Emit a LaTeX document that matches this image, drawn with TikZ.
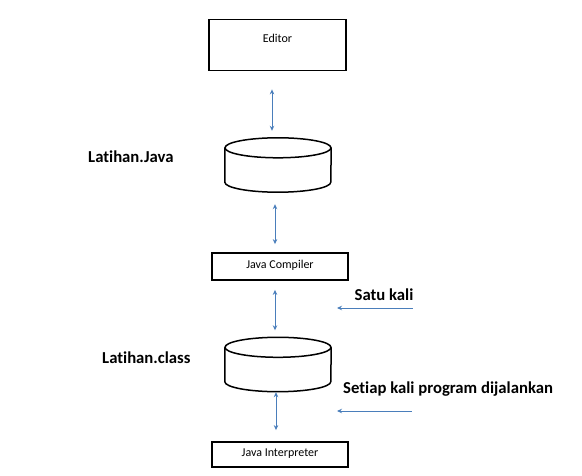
\documentclass[tikz,border=0pt]{standalone}
\usepackage{fontspec}
\setmainfont[Ligatures=NoCommon]{Carlito}
\usetikzlibrary{arrows.meta}
\definecolor{arrowblue}{RGB}{74,126,187}
\begin{document}
\begin{tikzpicture}[x=1pt,y=-1pt,
  box/.style={draw=black,line width=1.8pt,inner sep=0pt},
  boxtext/.style={font=\fontsize{12}{14}\selectfont},
  label/.style={font=\fontsize{16.7}{19}\selectfont\bfseries,inner sep=0pt},
  link/.style={draw=arrowblue,line width=0.9pt,{Stealth[length=5pt,width=4.5pt]}-{Stealth[length=5pt,width=4.5pt]}},
  onelink/.style={draw=arrowblue,line width=0.9pt,{Stealth[length=5pt,width=4.5pt]}-},
  cylline/.style={draw=black,line width=1.5pt},
  cylarea/.style={inner sep=0pt,minimum width=106pt,minimum height=54pt}]
\useasboundingbox (0,0) rectangle (582,476);
% Editor
\node[box,minimum width=137pt,minimum height=51pt] (editor) at (277.5,45) {};
\node[boxtext] (editortext) at (277.5,38) {Editor};
% Cylinder 1
\node[cylarea] (cyl1) at (278,165) {};
\draw[cylline] ([yshift=-10pt]cyl1.north) ellipse[x radius=53,y radius=10];
\draw[cylline] ([yshift=-10pt]cyl1.north west) -- ([yshift=10pt]cyl1.south west)
  arc[start angle=180,end angle=0,x radius=53,y radius=10]
  -- ([yshift=-10pt]cyl1.north east);
% Java Compiler
\node[box,minimum width=136pt,minimum height=27pt] (compiler) at (280,266.5) {};
\node[boxtext] (compilertext) at (280,265.5) {Java Compiler};
% Cylinder 2
\node[cylarea] (cyl2) at (278,364.5) {};
\draw[cylline] ([yshift=-10pt]cyl2.north) ellipse[x radius=53,y radius=10];
\draw[cylline] ([yshift=-10pt]cyl2.north west) -- ([yshift=10pt]cyl2.south west)
  arc[start angle=180,end angle=0,x radius=53,y radius=10]
  -- ([yshift=-10pt]cyl2.north east);
% Java Interpreter
\node[box,minimum width=136pt,minimum height=25pt] (interp) at (280,454.5) {};
\node[boxtext] (interptext) at (280,453.5) {Java Interpreter};
% vertical arrows
\draw[link,shorten <=18pt,shorten >=7pt] ([xshift=-5.5pt]editor.south) -- ([xshift=-6pt]cyl1.north);
\draw[link,shorten <=12pt,shorten >=8pt] ([xshift=-3pt]cyl1.south) -- ([xshift=-5pt]compiler.north);
\draw[link,shorten <=9pt,shorten >=7pt] ([xshift=-5pt]compiler.south) -- ([xshift=-3pt]cyl2.north);
\draw[link,shorten <=0.5pt,shorten >=11pt] ([xshift=-2pt]cyl2.south) -- ([xshift=-4pt]interp.north);
% labels
\node[label,anchor=west] (ljava) at (88,157) {Latihan.Java};
\node[label,anchor=west] (lclass) at (102,358) {Latihan.class};
\node[label] (satu) at (384,295) {Satu kali};
\node[label,anchor=west] (setiap) at (343,389) {Setiap kali program dijalankan};
% side arrows
\coordinate (s1a) at (337,308);
\coordinate (s1b) at (413,308);
\coordinate (s2a) at (337,411);
\coordinate (s2b) at (412,411);
\draw[onelink] (s1a) -- (s1b);
\draw[onelink] (s2a) -- (s2b);
\end{tikzpicture}
\end{document}
